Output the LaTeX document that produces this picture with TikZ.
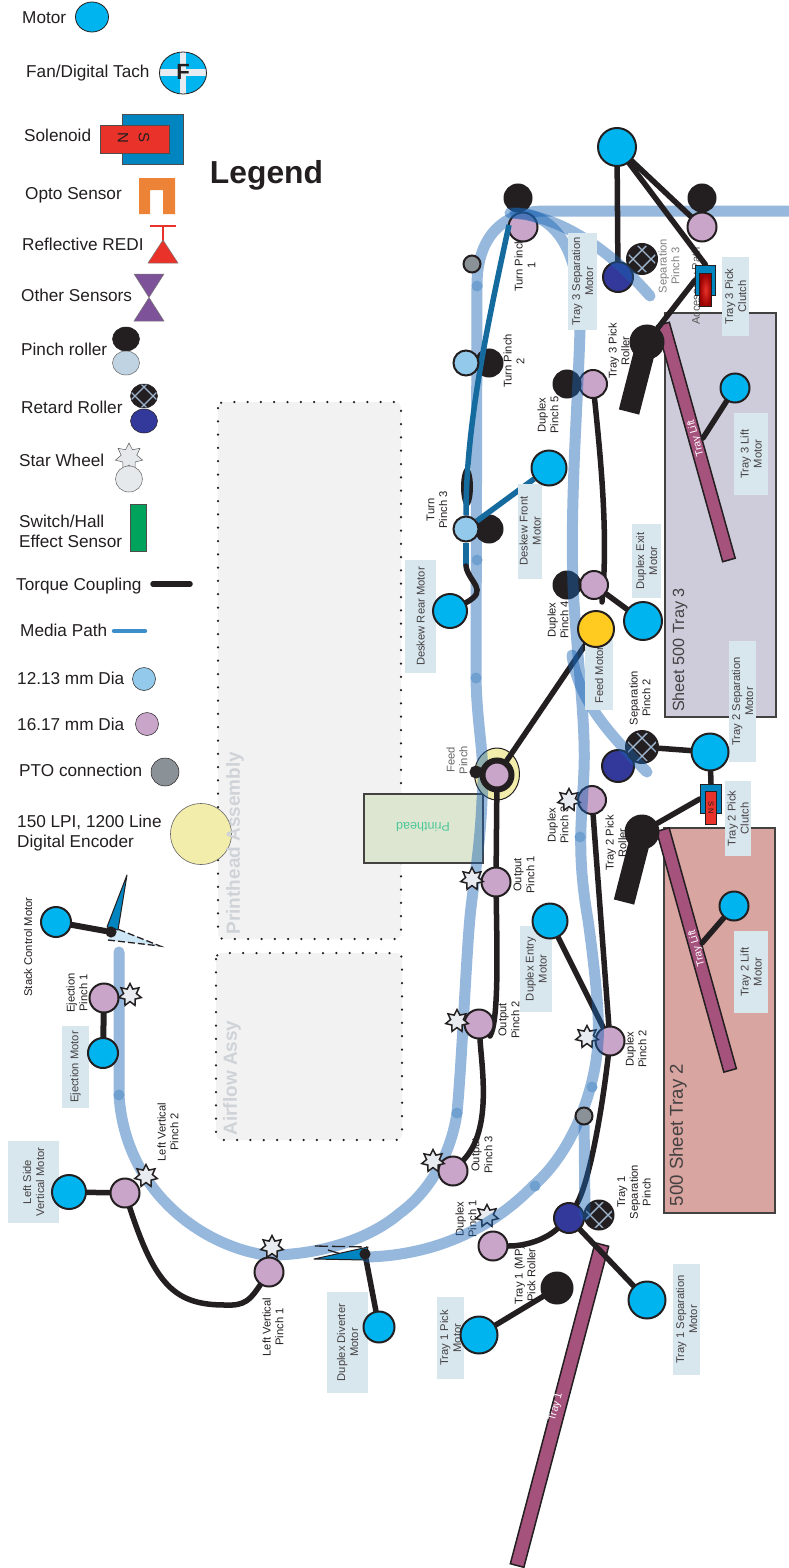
\documentclass[tikz,border=0pt]{standalone}
\usepackage{fontspec}
\setmainfont{Liberation Sans}
\usetikzlibrary{shapes.geometric}
\pgfdeclarelayer{back}
\pgfdeclarelayer{loop}
\pgfdeclarelayer{conn}
\pgfdeclarelayer{dupl}
\pgfdeclarelayer{boxes}
\pgfdeclarelayer{top}
\pgfsetlayers{back,loop,conn,main,dupl,boxes,top}
\definecolor{ink}{HTML}{231F20}
\definecolor{motorblue}{HTML}{00B5EF}
\definecolor{pinchpurple}{HTML}{C9A5C9}
\definecolor{smallblue}{HTML}{93C9EA}
\definecolor{ptogray}{HTML}{8A9197}
\definecolor{navyroller}{HTML}{33399A}
\definecolor{boxblue}{HTML}{D8E6EE}
\definecolor{pathblue}{HTML}{1862B2}
\definecolor{pathdot}{HTML}{6FA0CF}
\definecolor{linkblue}{HTML}{156A9E}
\definecolor{barpurple}{HTML}{A5527D}
\definecolor{encoderyellow}{HTML}{F3EDAB}
\definecolor{lattice}{HTML}{9DB4CC}
\definecolor{starfill}{HTML}{E8EBEF}
\definecolor{solblue}{HTML}{0085C0}
\definecolor{solred}{HTML}{E8322A}
\definecolor{optoorange}{HTML}{ED8336}
\definecolor{bowtie}{HTML}{7D5298}
\definecolor{paleroller}{HTML}{C0D3E3}
\definecolor{wheelgray}{HTML}{E6E9EC}
\definecolor{switchgreen}{HTML}{00A35B}
\definecolor{mediablue}{HTML}{3C8ECB}
\definecolor{traythree}{HTML}{CECCDB}
\definecolor{traytwo}{HTML}{D8A5A0}
\definecolor{printgreen}{HTML}{DDE6D0}
\definecolor{printtext}{HTML}{4CC79A}
\definecolor{feedyellow}{HTML}{FFCB20}
\definecolor{assygray}{HTML}{F2F2F2}
\definecolor{assytext}{HTML}{CFD3D8}
\tikzset{
  ball/.style={circle,draw=ink,line width=2pt,inner sep=0pt,minimum size=#1},
  motor/.style={ball=#1,fill=motorblue},
  pinch/.style={ball=#1,fill=pinchpurple},
  smallroller/.style={ball=25pt,fill=smallblue},
  blackroller/.style={ball=#1,fill=ink},
  navy/.style={ball=#1,fill=navyroller},
  pto/.style={ball=#1,fill=ptogray},
  retard/.style={ball=#1,fill=ink,path picture={
    \begin{scope}[scale=#1/32]
      \foreach \d in {-9,9} {
        \draw[lattice,line width=1.4pt] (-20,-20+\d) -- (20,20+\d);
        \draw[lattice,line width=1.4pt] (-20,20+\d) -- (20,-20+\d);
      }
    \end{scope}}},
  legendball/.style={ellipse,minimum width=#1,line width=.5pt},
  starwheel/.style={star,star points=7,star point ratio=1.75,draw=ink,line width=1.5pt,fill=starfill,inner sep=0pt,minimum size=23pt},
  torque/.style={draw=ink,line width=5.5pt,line cap=round},
  bluelink/.style={draw=linkblue,line width=5.5pt},
  mediapath/.style={draw=pathblue,opacity=.45,line width=11pt,line cap=round},
  legendtext/.style={anchor=base west,inner sep=0pt,text=ink,font=\fontsize{17.2}{20}\selectfont},
  pinchlabel/.style={rotate=90,align=center,inner sep=0pt,text=ink,font=\fontsize{11.2}{12.8}\selectfont},
  motorlabel/.style={rotate=90,align=center,inner sep=0pt,fill=boxblue,text=ink!85,font=\fontsize{11.2}{13}\selectfont},
  airbox/.style={draw=ink,fill=assygray,rounded corners=6pt,line width=2.5pt,line cap=round,dash pattern=on 0pt off 13.3pt},
  traybox/.style={draw=ink!85,line width=2pt},
  traybar/.style={rectangle,draw=ink,fill=barpurple,line width=1.5pt,inner sep=0pt,minimum height=13pt},
  bartext/.style={inner sep=0pt,text=white,font=\fontsize{10.5}{12}\selectfont},
  traytext/.style={rotate=90,inner sep=0pt,text=ink!85},
  assylabel/.style={rotate=90,inner sep=0pt,text=assytext,font=\fontsize{19}{22}\selectfont\bfseries},
  clutchbox/.style={rectangle,draw=ink,fill=solblue,line width=1.5pt,inner sep=0pt}
}
\begin{document}
\begin{tikzpicture}[x=1pt,y=-1pt]
  \useasboundingbox (0,0) rectangle (789,1568);

  \begin{pgfonlayer}{back}
    \fill[white] (0,0) rectangle (789,1568);
    \draw[airbox] (218,402) rectangle (401,939);
    \draw[airbox] (216,953) rectangle (402,1140);
    \node[ball=61pt,fill=encoderyellow,draw=black!60,line width=.6pt] (lgencoder) at (201,834) {};
    \node[assylabel] (printassy) at (235,843) {Printhead Assembly};
    \node[assylabel] (airassy) at (232,1078) {Airflow Assy};
    \filldraw[traybox,fill=traythree] (665,313) rectangle (776,717);
    \filldraw[traybox,fill=traytwo] (664,828) rectangle (775,1213);
    \node[traytext,font=\fontsize{16.2}{19}\selectfont] (sheetthree) at (680,650) {Sheet 500 Tray 3};
    \node[traytext,font=\fontsize{18.6}{21}\selectfont] (sheettwo) at (678,1135) {500 Sheet Tray 2};
    \node[traybar,rotate=105.6,minimum width=245pt] (liftbarthree) at (696,442) {};
    \node[bartext,rotate=105.6] (liftthreetext) at (696,438) {Tray Lift};
    \node[traybar,rotate=105.6,minimum width=250pt] (liftbartwo) at (696.5,950) {};
    \node[bartext,rotate=105.6] (lifttwotext) at (697,948) {Tray Lift};
    \node[traybar,rotate=75.2,minimum width=332pt,minimum height=14pt] (trayonebar) at (559.5,1405) {};
    \node[bartext,rotate=75.2] (trayonetext) at (556,1407) {Tray 1};
    \node[draw=ink!85,fill=printgreen,line width=2pt,minimum width=119pt,minimum height=69pt] (printhead) at (423.5,828) {};
    \node[rotate=180,inner sep=0pt,text=printtext,font=\fontsize{12.6}{14}\selectfont] (printtitle) at (423,827) {Printhead};
    \filldraw[draw=ink,fill=encoderyellow,line width=1pt] (497,774) ellipse (22.5 and 26);
    \foreach \name/\x/\y/\txt in {
      lturnone/525/265/{Turn Pinch\\1},
      lturntwo/514/361/{Turn Pinch\\2},
      lturnthree/437/510/{Turn\\Pinch 3},
      ldupfive/548/415/{Duplex\\Pinch 5},
      ldupfour/558/620/{Duplex\\Pinch 4},
      ldupthree/558/825/{Duplex\\Pinch 3},
      lduptwo/636/1049/{Duplex\\Pinch 2},
      lduprone/466/1219/{Duplex\\Pinch 1},
      lpickthree/619/351/{Tray 3 Pick\\Roller},
      lpicktwo/616/843/{Tray 2 Pick\\Roller},
      loutone/524/875/{Output\\Pinch 1},
      louttwo/509/1020/{Output\\Pinch 2},
      loutthree/482/1155/{Output\\Pinch 3},
      lseptwo/640/698/{Separation\\Pinch 2},
      lsepone/634/1192/{Tray 1\\Separation\\Pinch},
      lmppick/525/1275/{Tray 1 (MP)\\Pick Roller},
      lvertone/273/1327/{Left Vertical\\Pinch 1},
      lverttwo/168/1132/{Left Vertical\\Pinch 2},
      lejectone/77/993/{Ejection\\Pinch 1},
      lstack/28/947/{Stack Control Motor}}
      \node[pinchlabel] (\name) at (\x,\y) {\txt};
    \node[pinchlabel,text=black!50] (lsepthree) at (669,266) {Separation\\Pinch 3};
    \node[pinchlabel,text=black!60] (lfeed) at (457,760) {Feed\\Pinch};
    \node[pinchlabel,text=black!65] (laccess) at (697,286) {Accessory Path};

    \foreach \name/\x/\y/\txt in {
      tmotor/22/24/{Motor},
      tfan/26/78/{Fan/Digital Tach},
      tsol/24/142/{Solenoid},
      topto/25/199/{Opto Sensor},
      trefl/22/250/{Reflective REDI},
      tother/21/301/{Other Sensors},
      tpinch/21/355/{Pinch roller},
      tretard/21/413/{Retard Roller},
      tstar/19/466/{Star Wheel},
      tswitch/19/527/{Switch/Hall},
      teffect/19/547/{Effect Sensor},
      ttorque/16/590/{Torque Coupling},
      tmedia/20/636/{Media Path},
      tsmall/17/684/{12.13 mm Dia},
      tlarge/17/730/{16.17 mm Dia},
      tpto/19/776/{PTO connection},
      tencoder/17/827/{150 LPI, 1200 Line},
      tdigital/17/847/{Digital Encoder}}
      \node[legendtext] (\name) at (\x,\y) {\txt};
    \node[anchor=base,inner sep=0pt,text=ink,font=\fontsize{31.8}{36}\selectfont\bfseries] (legend) at (266.5,183) {Legend};
  \end{pgfonlayer}

  \begin{pgfonlayer}{loop}
    \draw[mediapath] (789,211) -- (545,211) .. controls (505,211) and (477,235) .. (477,285) -- (476,678) .. controls (477,730) and (486,760) .. (482,800) .. controls (480,850) and (473,885) .. (470,917) .. controls (466,960) and (462,1060) .. (457,1113) .. controls (450,1160) and (425,1195) .. (400,1213) .. controls (365,1243) and (310,1256) .. (265,1255) .. controls (200,1245) and (125,1190) .. (119,1095) -- (119,952);
    \foreach \x/\y in {477/286,477/560,476/678,457/1113,119/1095}
      \fill[pathdot] (\x,\y) circle (5.5);
  \end{pgfonlayer}

  \node[motor=30pt,legendball=33pt,line width=.8pt] (lgmotor) at (92,17) {};
  \node[motor=42pt,legendball=47pt,line width=.8pt,path picture={
    \fill[starfill] (-25,-3.5) rectangle (25,3.5);
    \fill[starfill] (-3,-25) rectangle (3,25);}] (lgfan) at (183,73) {};
  \node[inner sep=0pt,font=\fontsize{22}{24}\selectfont\bfseries,text=ink] (lgfanletter) at (183,72) {F};
  \node[draw=ink!80,fill=solblue,line width=1pt,minimum width=61pt,minimum height=49pt,inner sep=0pt] (lgsolblue) at (153,139.5) {};
  \node[draw=ink!80,fill=solred,line width=1pt,minimum width=69pt,minimum height=27pt,inner sep=0pt] (lgsolred) at (134.5,139.5) {};
  \node[rotate=-90,inner sep=0pt,text=ink,font=\fontsize{15}{16}\selectfont] (lgn) at (123,138) {N};
  \node[rotate=-90,inner sep=0pt,text=ink,font=\fontsize{15}{16}\selectfont] (lgs) at (144,138) {S};
  \fill[optoorange] (139,178) -- (175,178) -- (175,214) -- (163,214) -- (163,190) -- (150,190) -- (150,214) -- (139,214) -- cycle;
  \draw[solred,line width=2pt] (150,225.5) -- (176,225.5) (163,225.5) -- (163,241);
  \filldraw[draw=ink!60,fill=solred,line width=.5pt] (163,240) -- (148,263) -- (178,263) -- cycle;
  \filldraw[draw=ink!60,fill=bowtie,line width=.5pt] (134,274) -- (164,274) -- (134,321) -- (164,321) -- cycle;
  \node[blackroller=24pt,legendball=27pt] (lgblack) at (126,339) {};
  \node[ball=24pt,fill=paleroller,legendball=27pt,draw=black!60] (lgpale) at (126,363) {};
  \node[retard=24pt,legendball=27pt] (lgretard) at (144,396) {};
  \node[navy=24pt,legendball=27pt] (lgnavy) at (144,421) {};
  \node[starwheel,line width=.5pt,draw=black!65,minimum size=28pt,fill=wheelgray] (lgstar) at (129,457) {};
  \node[ball=26pt,fill=wheelgray,legendball=27pt,draw=black!60] (lgwheel) at (129,479) {};
  \node[draw=ink!80,fill=switchgreen,line width=.7pt,minimum width=16pt,minimum height=47pt,inner sep=0pt] (lgswitch) at (138.5,528) {};
  \coordinate (lgtorquea) at (153,584);
  \coordinate (lgtorqueb) at (190,584);
  \coordinate (lgmediaa) at (114,631);
  \coordinate (lgmediab) at (145,631);
  \draw[torque] (lgtorquea) -- (lgtorqueb);
  \draw[draw=mediablue,line width=4.5pt,line cap=round] (lgmediaa) -- (lgmediab);
  \node[ball=23pt,fill=smallblue,line width=.5pt] (lgsmall) at (144,679) {};
  \node[ball=23pt,fill=pinchpurple,line width=.5pt] (lglarge) at (147,724) {};
  \node[ball=28pt,fill=ptogray,line width=.5pt] (lgpto) at (165,772) {};

  \foreach \name/\x/\y/\d in {
    turnone/523/227/29pt,
    rightpinch/702/227/29pt,
    dupfive/593/384/28pt,
    dupfour/594/585/28pt,
    dupthree/592/800/28pt,
    outone/496/882/29pt,
    outtwo/479/1024/29pt,
    duptwo/610/1041/29pt,
    outthree/453/1171/29pt,
    duprone/493/1246/29pt,
    vertone/269/1272/29pt,
    vertsideroller/125/1193/29pt,
    ejectone/104/998/29pt}
    \node[pinch=\d] (\name) at (\x,\y) {};
  \node[pinch=29pt,line width=6pt] (feed) at (497,775) {};
  \foreach \name/\x/\y/\d in {
    blackone/518/198/27pt,
    blackright/702/198/27pt,
    blackturntwo/489/363/27pt,
    blackdupfive/567/384/27pt,
    blackturnthree/489/529/27pt,
    blackdupfour/567/585/27pt,
    feeddot/476/772/11pt,
    mppick/557/1288/31pt,
    pickthree/647/342/33pt,
    picktwo/642/832/33pt}
    \node[blackroller=\d] (\name) at (\x,\y) {};
  \coordinate (armthree) at (629,412);
  \coordinate (armtwo) at (624,902);
  \draw[ink,line width=21pt] (pickthree.center) -- (armthree);
  \draw[ink,line width=21pt] (picktwo.center) -- (armtwo);
  \foreach \name/\x/\y/\d in {
    navythree/618/277/30pt,
    navytwo/618/766/32pt,
    navyone/569/1218/30pt}
    \node[navy=\d] (\name) at (\x,\y) {};
  \foreach \name/\x/\y/\d in {
    retardthree/642/259/30pt,
    retardtwo/642/747/32pt,
    retardone/599/1215/29pt}
    \node[retard=\d] (\name) at (\x,\y) {};
  \foreach \name/\x/\y in {
    stardupthree/569/800,
    staroutone/472/879,
    starouttwo/457/1021,
    starduptwo/587/1037,
    staroutthree/433/1161,
    stardupone/487/1216,
    starvertone/272/1247,
    starverttwo/146/1176,
    stareject/130/995}
    \node[starwheel] (\name) at (\x,\y) {};

  \begin{pgfonlayer}{top}
    \foreach \name/\x/\y/\d in {
      topmotor/617/147/38pt,
      frontmotor/549/468/35pt,
      liftthree/735/388/29pt,
      rearmotor/450/611/34pt,
      exitmotor/643/621/38pt,
      septwomotor/710/752/37pt,
      lifttwo/734/906/29pt,
      entrymotor/550/921/35pt,
      seponemotor/647/1300/37pt,
      pickonemotor/479/1335/37pt,
      divertmotor/379/1327/31pt,
      sidemotor/69/1192/34pt,
      ejectmotor/103/1053/30pt,
      stackmotor/56/922/30pt}
      \node[motor=\d] (\name) at (\x,\y) {};
    \node[ball=36pt,fill=feedyellow] (feedmotor) at (596,629) {};
    \node[smallroller] (turntwo) at (466,363) {};
    \node[smallroller] (turnthree) at (466,529) {};
    \node[pto=17pt] (ptoone) at (472,264) {};
    \node[pto=17pt] (ptotwo) at (584,1116) {};
    \node[clutchbox,minimum width=20pt,minimum height=30pt] (clutchthree) at (705.5,280.5) {};
    \node[rectangle,draw=ink,inner color=solred,outer color=red!60!black,line width=1.5pt,minimum width=12pt,minimum height=33pt,inner sep=0pt] (clutchthreered) at (705.5,290) {};
    \node[clutchbox,minimum width=21pt,minimum height=29pt] (clutchtwo) at (711,799) {};
    \node[rectangle,draw=ink,fill=solred,line width=1.5pt,minimum width=11pt,minimum height=33pt,inner sep=0pt] (clutchtwored) at (711,808) {};
    \node[rotate=-90,inner sep=0pt,text=ink,font=\fontsize{7.5}{8}\selectfont] (clutchtwotext) at (711,808) {S N};
    \filldraw[draw=ink,fill=solblue,line width=1pt,line join=round] (127,875) -- (107,927) -- (118,930) -- cycle;
    \filldraw[draw=ink,fill=solblue,line width=1pt,line join=round] (314,1259) -- (368,1247) -- (365,1260) -- cycle;
    \node[blackroller=9pt] (stackpivot) at (111,932) {};
    \node[blackroller=9pt] (divertpivot) at (365,1254) {};
  \end{pgfonlayer}

  \begin{pgfonlayer}{loop}
    \fill[smallblue!45!white] (108,940) -- (160,946) -- (115,928) -- cycle;
    \draw[ink,line width=1.3pt,dash pattern=on 7pt off 3pt] (108,940) -- (160,946) -- (115,928);
    \draw[ink,line width=1.3pt,dash pattern=on 13pt off 4pt] (315,1246) -- (367,1247);
    \draw[ink,line width=1.3pt] (328,1250) -- (341,1254);
    \fill[ink] (467,487) ellipse (6 and 20);
  \end{pgfonlayer}

  \begin{pgfonlayer}{conn}
    \coordinate (liftendthree) at (703,438);
    \coordinate (liftendtwo) at (702,943);
    \coordinate (outtwobend) at (490,1036);
    \draw[torque] (topmotor) -- (navythree);
    \draw[torque] (topmotor) -- (rightpinch);
    \draw[torque] (topmotor) -- (clutchthree.north);
    \draw[torque] (clutchthree.west) -- (pickthree);
    \draw[torque] (liftthree) -- (liftendthree);
    \draw[torque] (dupfive) .. controls (602,470) and (608,540) .. (602,602);
    \draw[torque] (exitmotor) -- (dupfour);
    \draw[torque] (feedmotor) -- (feed);
    \draw[torque] (feed) -- (outone);
    \draw[torque] (outone) .. controls (497,950) and (499,1020) .. (outtwobend);
    \draw[torque] (outtwo) .. controls (482,1070) and (492,1130) .. (outthree);
    \draw[torque] (dupthree) -- (duptwo);
    \draw[torque] (entrymotor) -- (duptwo);
    \draw[torque] (duptwo) .. controls (602,1110) and (590,1180) .. (navyone);
    \draw[torque] (duprone) .. controls (525,1246) and (545,1240) .. (navyone);
    \draw[torque] (navyone) -- (seponemotor);
    \draw[torque] (pickonemotor) -- (mppick);
    \draw[torque] (septwomotor) -- (retardtwo);
    \draw[torque] (septwomotor) -- (clutchtwo.north);
    \draw[torque] (clutchtwo.west) -- (picktwo);
    \draw[torque] (lifttwo) -- (liftendtwo);
    \draw[torque] (sidemotor) -- (vertsideroller);
    \draw[torque] (vertsideroller) .. controls (155,1285) and (175,1305) .. (225,1305) .. controls (245,1306) and (250,1300) .. (vertone);
    \draw[torque,line width=6pt] (ejectone) -- (ejectmotor);
    \draw[torque,line width=6pt] (stackmotor) -- (stackpivot);
    \draw[torque] (divertmotor) -- (divertpivot);
  \end{pgfonlayer}

  \begin{pgfonlayer}{dupl}
    \coordinate (turnonedge) at (509,225);
    \coordinate (rearbend) at (466,566);
    \draw[mediapath] (515,213) .. controls (555,213) and (582,250) .. (580,330) .. controls (578,400) and (570,500) .. (573,585) .. controls (576,650) and (586,720) .. (584,770) .. controls (582,820) and (576,850) .. (588,920) .. controls (595,970) and (600,1020) .. (598,1041) .. controls (596,1085) and (575,1150) .. (533,1186) .. controls (495,1225) and (440,1255) .. (367,1257);
    \draw[mediapath] (510,213) .. controls (560,215) and (610,250) .. (650,296);
    \draw[mediapath] (572,655) .. controls (578,700) and (610,735) .. (647,772);
    \draw[mediapath] (ptotwo) -- (585,1215);
    \foreach \x/\y in {580/837,592/1087,535/1186}
      \fill[pathdot] (\x,\y) circle (5.5);
    \draw[bluelink] (turnonedge) .. controls (484,340) and (466,430) .. (turnthree);
    \draw[bluelink] (turnthree) -- (rearbend);
    \draw[bluelink] (frontmotor) -- (turnthree);
    \draw[torque] (rearbend) .. controls (468,582) and (490,590) .. (rearmotor);
  \end{pgfonlayer}

  \begin{pgfonlayer}{boxes}
    \foreach \name/\x/\y/\w/\h/\txt in {
      bsepthree/582.5/281.5/97/29/{Tray 3 Separation\\Motor},
      bclutchthree/735.5/296.5/79/27/{Tray 3 Pick\\Clutch},
      bliftthree/751/454/82/34/{Tray 3 Lift\\Motor},
      bfront/530/531/95/24/{Deskew Front\\Motor},
      bexit/646.5/561/74/29/{Duplex Exit\\Motor},
      brear/420.5/616.5/113/31/{Deskew Rear Motor},
      bfeed/599/675/70/28/{Feed Motor},
      bseptwo/742.5/701.5/121/27/{Tray 2 Separation\\Motor},
      bclutchtwo/738/818.5/75/26/{Tray 2 Pick\\Clutch},
      bentry/536/969/86/32/{Duplex Entry\\Motor},
      blifttwo/751/972/82/34/{Tray 2 Lift\\Motor},
      bsepone/686.5/1319.5/111/27/{Tray 1 Separation\\Motor},
      bpickone/450.5/1338/82/27/{Tray 1 Pick\\Motor},
      bdivert/347.5/1342.5/101/41/{Duplex Diverter\\Motor},
      bside/33.5/1182/82/51/{Left Side\\Vertical Motor},
      beject/75.5/1067/82/27/{Ejection Motor}}
      \node[motorlabel,minimum width=\w pt,minimum height=\h pt] (\name) at (\x,\y) {\txt};
  \end{pgfonlayer}
\end{tikzpicture}
\end{document}
